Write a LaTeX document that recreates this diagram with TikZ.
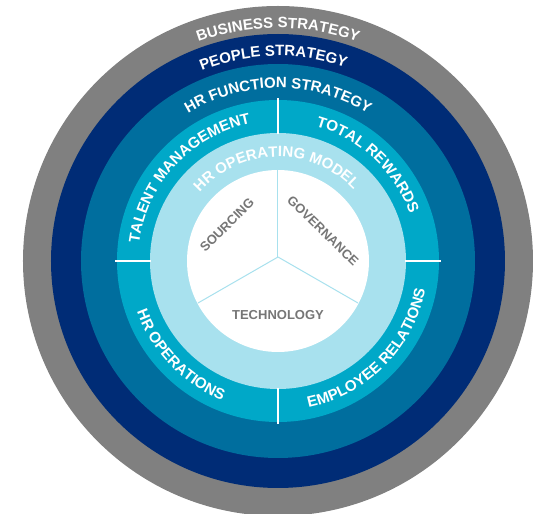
\documentclass[tikz,border=0pt]{standalone}
\usepackage{fontspec}
\setmainfont{Liberation Sans}
\usetikzlibrary{decorations.text}

\definecolor{ringgray}{RGB}{128,128,128}
\definecolor{ringnavy}{RGB}{0,44,118}
\definecolor{ringteal}{RGB}{0,110,158}
\definecolor{ringcyan}{RGB}{0,168,200}
\definecolor{ringlight}{RGB}{168,225,238}
\definecolor{labelgray}{RGB}{118,118,118}

\tikzset{
  ringlabel/.style={decorate, decoration={text along path, text align=center,
      text color=white, text={|\fontsize{15.2}{15.2}\selectfont\bfseries|#1}}},
  biglabel/.style={decorate, decoration={text along path, text align=center,
      text color=white, text={|\fontsize{15}{15}\selectfont\bfseries|#1}}},
  innerlabel/.style={text=labelgray, font=\fontsize{13}{13}\selectfont\bfseries, inner sep=0pt},
  divider/.style={white, line width=2pt},
  wedgeline/.style={ringlight, line width=1pt},
}

\begin{document}
\begin{tikzpicture}[x=1pt, y=1pt]
  \useasboundingbox (-278,-253) rectangle (261,261);

  % concentric rings
  \fill[ringgray]  (0,0) circle (255);
  \fill[ringnavy]  (0,0) circle (227);
  \fill[ringteal]  (0,0) circle (197);
  \fill[ringcyan]  (0,0) circle (161);
  \fill[ringlight] (0,0) circle (128);
  \fill[white]     (0,0) circle (91);

  % quadrant dividers in the cyan band
  \foreach \a in {0,90,180,270}
    \draw[divider] (\a:127) -- (\a:163);

  % three wedges of the core
  \coordinate (hub) at (0,4);
  \draw[wedgeline] (hub) -- (0,91);
  \draw[wedgeline] (hub) -- (-80,-42);
  \draw[wedgeline] (hub) -- (80,-42);

  % curved labels on the outer rings
  \path[biglabel={BUSINESS STRATEGY}] (160:233) arc[start angle=160, end angle=20, radius=233];
  \path[biglabel={PEOPLE STRATEGY}] (161.3:205) arc[start angle=161.3, end angle=21.3, radius=205];
  \path[biglabel={HR FUNCTION STRATEGY}] (165:173) arc[start angle=165, end angle=15, radius=173];

  % curved labels in the cyan band
  \path[ringlabel={TALENT MANAGEMENT}] (202:140) arc[start angle=202, end angle=72, radius=140];
  \path[ringlabel={TOTAL REWARDS}] (102:140) arc[start angle=102, end angle=-8, radius=140];
  \path[ringlabel={HR OPERATIONS}] (169:150) arc[start angle=169, end angle=279, radius=150];
  \path[ringlabel={EMPLOYEE RELATIONS}] (250:150) arc[start angle=250, end angle=381, radius=150];

  % operating model label
  \path[biglabel={HR OPERATING MODEL}] (161:104) arc[start angle=161, end angle=21, radius=104];

  % core labels
  \node[innerlabel, rotate=45] (sourcing) at (-51,36) {SOURCING};
  \node[innerlabel, rotate=-44] (governance) at (45,30) {GOVERNANCE};
  \node[innerlabel] (technology) at (0,-54) {TECHNOLOGY};
\end{tikzpicture}
\end{document}
